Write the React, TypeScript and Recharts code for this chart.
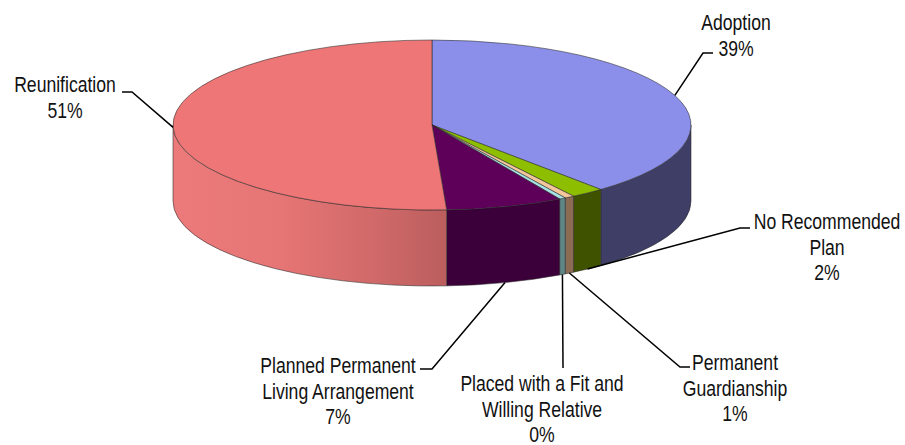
import { PieChart, Pie, Cell } from 'recharts'

// permanency goals, share of children (%)
const categories = [
  'Adoption',
  'No Recommended\nPlan',
  'Permanent\nGuardianship',
  'Placed with a Fit and\nWilling Relative',
  'Planned Permanent\nLiving Arrangement',
  'Reunification',
]
const shares = [38.7, 2.1, 0.6, 0.4, 7.3, 50.9]

const TOP_COLORS = ['#8B8FEA', '#8DBE00', '#F3C69C', '#A6E2E4', '#5E0059', '#EE7676']
const SIDE_COLORS = ['#3E3E67', '#3F5200', '#8C6B55', '#5F8585', '#3B0039', 'url(#reunifSide)']

// text centre x, first baseline y, elbow of the leader, end of the short tick
const LABELS = [
  { x: 736, y: 30, elbow: [703, 53], tick: [713, 53] },
  { x: 827, y: 229, elbow: [740, 228], tick: [750, 228] },
  { x: 735, y: 370, elbow: [680, 367], tick: [690, 367] },
  { x: 542, y: 391, elbow: [563, 368], tick: null },
  { x: 338, y: 373, elbow: [432, 369], tick: [420, 369] },
  { x: 65, y: 92, elbow: [132, 92], tick: [122, 92] },
]

const rows = categories.map((name, i) => ({ name, value: shares[i] }))

const TILT = 85 / 259
const DEPTH = 76
const RAD = Math.PI / 180
const FONT = "'Liberation Sans', Arial, sans-serif"

function pt(cx: number, cy: number, rx: number, ry: number, a: number) {
  return [cx + rx * Math.cos(a * RAD), cy - ry * Math.sin(a * RAD)]
}

function Slice3D(props: any) {
  const { cx, cy, outerRadius, startAngle, endAngle, fill, name } = props
  const idx = categories.indexOf(name ?? props.payload?.name)
  const rx = outerRadius
  const ry = outerRadius * TILT
  const hi = Math.max(startAngle, endAngle)
  const lo = Math.min(startAngle, endAngle)
  const [x1, y1] = pt(cx, cy, rx, ry, hi)
  const [x2, y2] = pt(cx, cy, rx, ry, lo)
  const large = hi - lo > 180 ? 1 : 0
  const top = `M${cx},${cy} L${x1},${y1} A${rx},${ry} 0 ${large} 1 ${x2},${y2} Z`

  // only the front half of the rim shows a wall
  const wHi = Math.min(hi, 0)
  const wLo = Math.max(lo, -180)
  let wall = null
  if (wHi > wLo) {
    const [a1, b1] = pt(cx, cy, rx, ry, wHi)
    const [a2, b2] = pt(cx, cy, rx, ry, wLo)
    wall = `M${a1},${b1} A${rx},${ry} 0 0 1 ${a2},${b2} L${a2},${b2 + DEPTH} A${rx},${ry} 0 0 0 ${a1},${b1 + DEPTH} Z`
  }
  return (
    <g>
      {wall && <path d={wall} fill={SIDE_COLORS[idx]} stroke="#2a2a2a" strokeWidth={0.8} strokeOpacity={0.7} />}
      <path d={top} fill={fill} stroke="#2a2a2a" strokeWidth={0.8} strokeOpacity={0.7} />
    </g>
  )
}

function renderLabel(props: any) {
  const { cx, cy, outerRadius, midAngle, percent, name } = props
  const idx = categories.indexOf(name)
  const L = LABELS[idx]
  if (!L) return null
  const rx = outerRadius
  const ry = outerRadius * TILT
  let [ax, ay] = pt(cx, cy, rx, ry, midAngle)
  if (Math.sin(midAngle * RAD) < -0.5) ay += DEPTH
  const pts = [[ax, ay], L.elbow]
  if (L.tick) pts.push(L.tick)
  const lines = [...categories[idx].split('\n'), `${Math.round(percent * 100)}%`]
  return (
    <g>
      <polyline points={pts.map((p) => p.join(',')).join(' ')} fill="none" stroke="#000" strokeWidth={1.5} />
      {lines.map((t, i) => (
        // narrow face: squeeze the sans horizontally
        <text
          key={i}
          transform={`translate(${L.x},${L.y + i * 25.5}) scale(0.8,1)`}
          x={0}
          y={0}
          textAnchor="middle"
          fontSize={22}
          fontFamily={FONT}
          fill="#111"
        >
          {t}
        </text>
      ))}
    </g>
  )
}

export default function App() {
  return (
    <div style={{ position: 'absolute', left: 0, top: 0, background: '#fff' }}>
      <PieChart width={905} height={445} margin={{ top: 0, right: 0, bottom: 0, left: 0 }}>
        <defs>
          <linearGradient id="reunifSide" gradientUnits="userSpaceOnUse" x1={172} y1={0} x2={445} y2={0}>
            <stop offset="0" stopColor="#EC7A7A" />
            <stop offset="0.4" stopColor="#E67575" />
            <stop offset="0.75" stopColor="#D06969" />
            <stop offset="1" stopColor="#BC5E5E" />
          </linearGradient>
        </defs>
        <Pie
          data={rows}
          dataKey="value"
          nameKey="name"
          cx={432}
          cy={125}
          outerRadius={259}
          startAngle={90}
          endAngle={-270}
          stroke="none"
          isAnimationActive={false}
          inactiveShape={Slice3D}
          activeShape={Slice3D}
          shape={Slice3D}
          label={renderLabel}
          labelLine={false}
        >
          {rows.map((r, i) => (
            <Cell key={r.name} fill={TOP_COLORS[i]} />
          ))}
        </Pie>
      </PieChart>
    </div>
  )
}
